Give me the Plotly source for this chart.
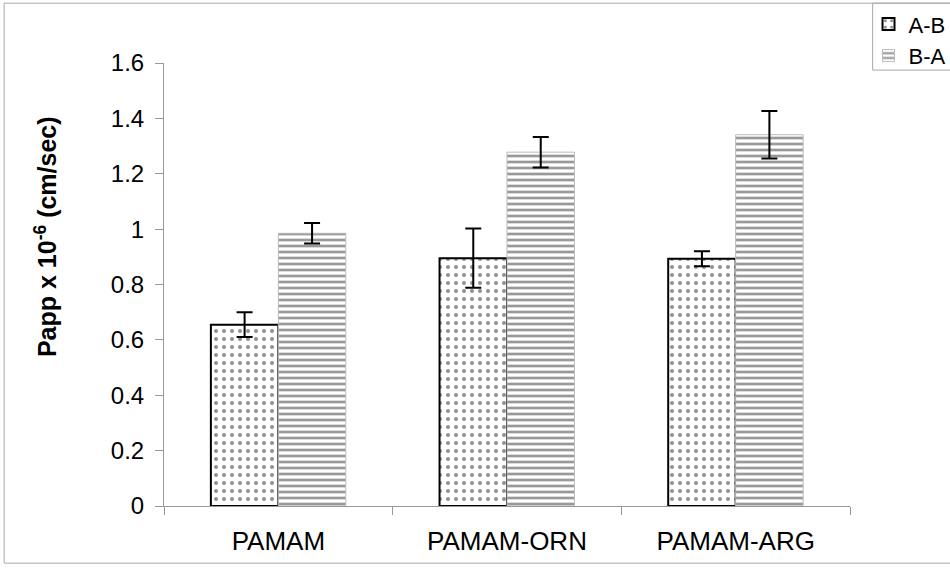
import plotly.graph_objects as go

categories = ["PAMAM", "PAMAM-ORN", "PAMAM-ARG"]
ab_values = [0.655, 0.895, 0.893]
ab_err = [0.045, 0.107, 0.027]
ba_values = [0.985, 1.278, 1.341]
ba_err = [0.037, 0.055, 0.086]

fig = go.Figure()
fig.add_trace(go.Bar(
    name="A-B", x=categories, y=ab_values,
    marker=dict(color="white", line=dict(color="black", width=2),
                pattern=dict(shape=".", fgcolor="#222", size=8, solidity=0.2)),
    error_y=dict(type="data", array=ab_err, color="black", thickness=2, width=8),
))
fig.add_trace(go.Bar(
    name="B-A", x=categories, y=ba_values,
    marker=dict(color="white", line=dict(color="#bbbbbb", width=1),
                pattern=dict(shape="-", fgcolor="#333", size=6, solidity=0.45)),
    error_y=dict(type="data", array=ba_err, color="black", thickness=2, width=8),
))

# plot area in screen px: x 164-850, y 63-506
fig.update_layout(
    width=950, height=584,
    margin=dict(l=164, r=100, t=63, b=78, autoexpand=False),
    paper_bgcolor="white", plot_bgcolor="white",
    barmode="group", bargap=0.41, bargroupgap=0,
    font=dict(family="Liberation Sans, Arial", size=24, color="black"),
    legend=dict(x=1.027, y=1.135, xanchor="left", yanchor="top",
                borderwidth=0, font=dict(size=22), bgcolor="rgba(0,0,0,0)",
                tracegroupgap=0, itemwidth=30),
    showlegend=True,
)
fig.update_yaxes(
    range=[0, 1.6], dtick=0.2, tickformat="~g",
    showgrid=False, zeroline=False, automargin=False,
    showline=True, linecolor="#999", linewidth=1,
    ticks="outside", ticklen=8, tickcolor="#999", ticklabelstandoff=6,
    tickfont=dict(size=24),
)
fig.update_xaxes(
    showgrid=False, showline=True, linecolor="#999", linewidth=1, automargin=False,
    ticks="outside", tickson="boundaries", ticklen=8, tickcolor="#999",
    ticklabelstandoff=12, tickfont=dict(size=26),
)
# y axis title sits above the axis centre in the original
fig.add_annotation(
    text="<b>Papp x 10<sup>-6</sup> (cm/sec)</b>", textangle=-90,
    xref="paper", yref="paper", x=-0.172, y=0.607,
    xanchor="center", yanchor="middle", showarrow=False,
    font=dict(size=25),
)
# outer chart frame
fig.add_shape(type="rect", xref="paper", yref="paper",
              x0=-0.233, x1=1.2, y0=-0.129, y1=1.135,
              line=dict(color="#aaa", width=1), layer="below")
# legend frame
fig.add_shape(type="rect", xref="paper", yref="paper",
              x0=1.033, x1=1.2, y0=0.984, y1=1.135,
              line=dict(color="#aaa", width=1), layer="below")

fig.write_html("out.html", config={"displayModeBar": False},
               post_script="document.body.style.margin='0';")
